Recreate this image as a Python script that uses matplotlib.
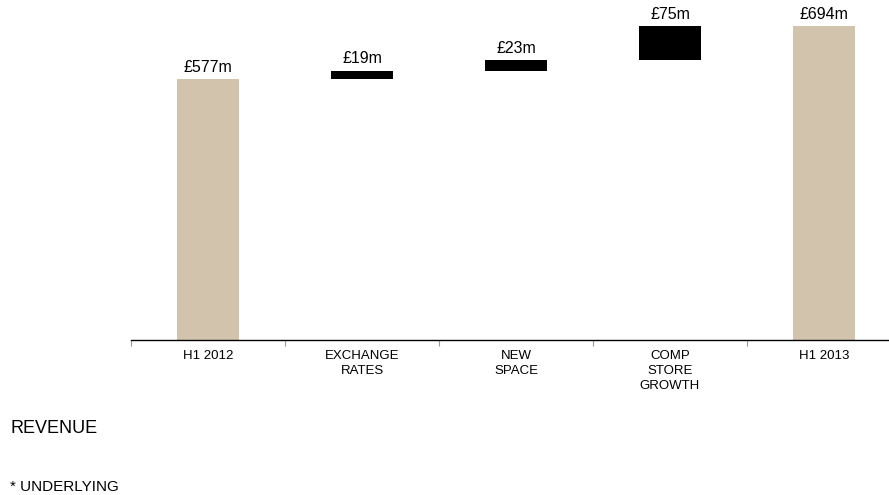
import matplotlib.pyplot as plt
import numpy as np

plt.rcParams['font.family'] = ['Liberation Sans', 'DejaVu Sans']

# revenue bridge, £m
categories = ['H1 2012', 'EXCHANGE\nRATES', 'NEW\nSPACE', 'COMP\nSTORE\nGROWTH', 'H1 2013']
start_value = 577
changes = [19, 23, 75]
end_value = 694
value_labels = ['£577m', '£19m', '£23m', '£75m', '£694m']

tan = '#D1C3AC'

fig = plt.figure(figsize=(8.89, 4.95), dpi=100)
ax = fig.add_axes([131 / 889, 155 / 495, 770 / 889, 340 / 495])

x = np.arange(len(categories))
width = 0.4

# running totals for the floating steps
bottoms = [0]
heights = [start_value]
running = start_value
for c in changes:
    bottoms.append(running)
    heights.append(c)
    running += c
bottoms.append(0)
heights.append(end_value)

colors = [tan] + ['black'] * len(changes) + [tan]
ax.bar(x, heights, width, bottom=bottoms, color=colors, edgecolor='none')

for xi, b, h, lab in zip(x, bottoms, heights, value_labels):
    ax.annotate(lab, (xi, b + h), xytext=(0, 3), textcoords='offset points',
                ha='center', va='bottom', fontsize=11.5)

ax.set_xlim(-0.5, len(categories) - 0.5)
ax.set_ylim(0, 752)

for side in ['top', 'right', 'left']:
    ax.spines[side].set_visible(False)
ax.spines['bottom'].set_linewidth(1.0)
ax.set_yticks([])

ax.set_xticks(x)
ax.set_xticklabels(categories, fontsize=9.5, linespacing=1.3)
ax.tick_params(axis='x', which='major', length=0, pad=7.5)
ax.set_xticks(np.arange(-0.5, len(categories), 1.0), minor=True)
ax.tick_params(axis='x', which='minor', length=4, width=0.8, color='#999999', direction='out')

fig.text(10 / 889, 1 - 433 / 495, 'REVENUE', fontsize=13, ha='left', va='baseline')
fig.text(10 / 889, 1 - 491 / 495, '* UNDERLYING', fontsize=11, ha='left', va='baseline')

fig.savefig('out.png', dpi=100)
